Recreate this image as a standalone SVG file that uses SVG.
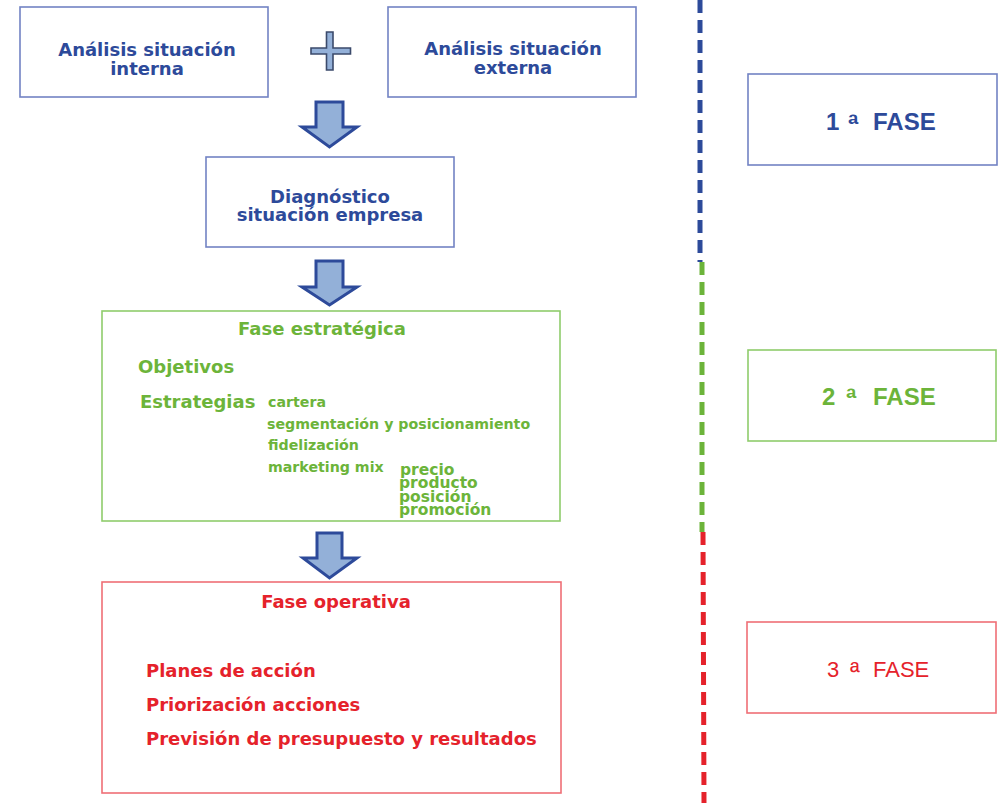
<svg xmlns="http://www.w3.org/2000/svg" width="998" height="803" viewBox="0 0 998 803">
<style>
.bg{fill:#fff}
.bx{fill:#fff;stroke-width:1.6}
.bb{stroke:#7283c4}
.gb{stroke:#8fcc6c}
.rb{stroke:#ef6f76}
.t{font-family:"DejaVu Sans",Verdana,sans-serif;font-weight:bold}
.tb{fill:#2d4a9a}
.tg{fill:#6cb43a}
.tr{fill:#e5222b}
.f18{font-size:18px}
.f14{font-size:14.2px}
.f15{font-size:15.5px}
.ph{font-family:"Liberation Sans",Arial,sans-serif}
.arr{fill:#93b0d8;stroke:#2d4a9a;stroke-width:3;stroke-linejoin:miter}
.dash{fill:none;stroke-width:5;stroke-dasharray:13 7}
</style>
<rect class="bg" x="0" y="0" width="998" height="803"/>

<g id="connectors">
  <path class="arr" d="M316,102 H343 V127 H357 L329.5,147 L302,127 H316 Z"/>
  <path class="arr" d="M316,261 H343 V287 H357 L329.5,305 L302,287 H316 Z"/>
  <path class="arr" d="M317,533 H342 V558 H357 L329.5,578 L303,558 H317 Z"/>
  <path id="plus" d="M326.5,32 H333 V48 H350.5 V54 H333 V70 H326.5 V54 H311 V48 H326.5 Z" fill="#93b0d8" stroke="#3b4a6b" stroke-width="1.6"/>
  <line class="dash" x1="700" y1="0" x2="700" y2="262" stroke="#2d4a9a"/>
  <line class="dash" x1="702" y1="262" x2="702" y2="532" stroke="#6cb43a"/>
  <line class="dash" x1="703" y1="532" x2="704" y2="803" stroke="#e5222b"/>
</g>

<g id="interna">
  <rect class="bx bb" x="20" y="7" width="248" height="90"/>
  <text class="t tb f18" text-anchor="middle" x="147" y="56">Análisis situación</text>
  <text class="t tb f18" text-anchor="middle" x="147" y="75">interna</text>
</g>

<g id="externa">
  <rect class="bx bb" x="388" y="7" width="248" height="90"/>
  <text class="t tb f18" text-anchor="middle" x="513" y="55">Análisis situación</text>
  <text class="t tb f18" text-anchor="middle" x="513" y="74">externa</text>
</g>

<g id="diagnostico">
  <rect class="bx bb" x="206" y="157" width="248" height="90"/>
  <text class="t tb f18" text-anchor="middle" x="330" y="203">Diagnóstico</text>
  <text class="t tb f18" text-anchor="middle" x="330" y="221">situación empresa</text>
</g>

<g id="estrategica">
  <rect class="bx gb" x="102" y="311" width="458" height="210"/>
  <text class="t tg f18" text-anchor="middle" x="322" y="335">Fase estratégica</text>
  <text class="t tg f18" x="138" y="373">Objetivos</text>
  <text class="t tg f18" x="140" y="408">Estrategias</text>
  <text class="t tg f14" x="268" y="407">cartera</text>
  <text class="t tg f14" x="267" y="429">segmentación y posicionamiento</text>
  <text class="t tg f14" x="268" y="450">fidelización</text>
  <text class="t tg f14" x="268" y="472">marketing mix</text>
  <text class="t tg f15" x="400" y="475">precio</text>
  <text class="t tg f15" x="399" y="488">producto</text>
  <text class="t tg f15" x="399" y="502">posición</text>
  <text class="t tg f15" x="399" y="515">promoción</text>
</g>

<g id="operativa">
  <rect class="bx rb" x="102" y="582" width="459" height="211"/>
  <text class="t tr f18" text-anchor="middle" x="336" y="608">Fase operativa</text>
  <text class="t tr f18" x="146" y="677">Planes de acción</text>
  <text class="t tr f18" x="146" y="711">Priorización acciones</text>
  <text class="t tr f18" x="146" y="745">Previsión de presupuesto y resultados</text>
</g>

<g id="fase1">
  <rect class="bx bb" x="748" y="74" width="249" height="91"/>
  <text class="ph tb" font-size="24" font-weight="bold" y="130"><tspan x="826">1</tspan><tspan x="848" font-size="28" y="134">ª</tspan><tspan x="873" y="130">FASE</tspan></text>
</g>

<g id="fase2">
  <rect class="bx gb" x="748" y="350" width="248" height="91"/>
  <text class="ph tg" font-size="24" font-weight="bold" y="405"><tspan x="822">2</tspan><tspan x="846" font-size="28" y="408">ª</tspan><tspan x="873" y="405">FASE</tspan></text>
</g>

<g id="fase3">
  <rect class="bx rb" x="747" y="622" width="249" height="91"/>
  <text class="ph tr" font-size="22" y="677"><tspan x="827">3</tspan><tspan x="850" font-size="26" y="681">ª</tspan><tspan x="873" y="677">FASE</tspan></text>
</g>
</svg>
